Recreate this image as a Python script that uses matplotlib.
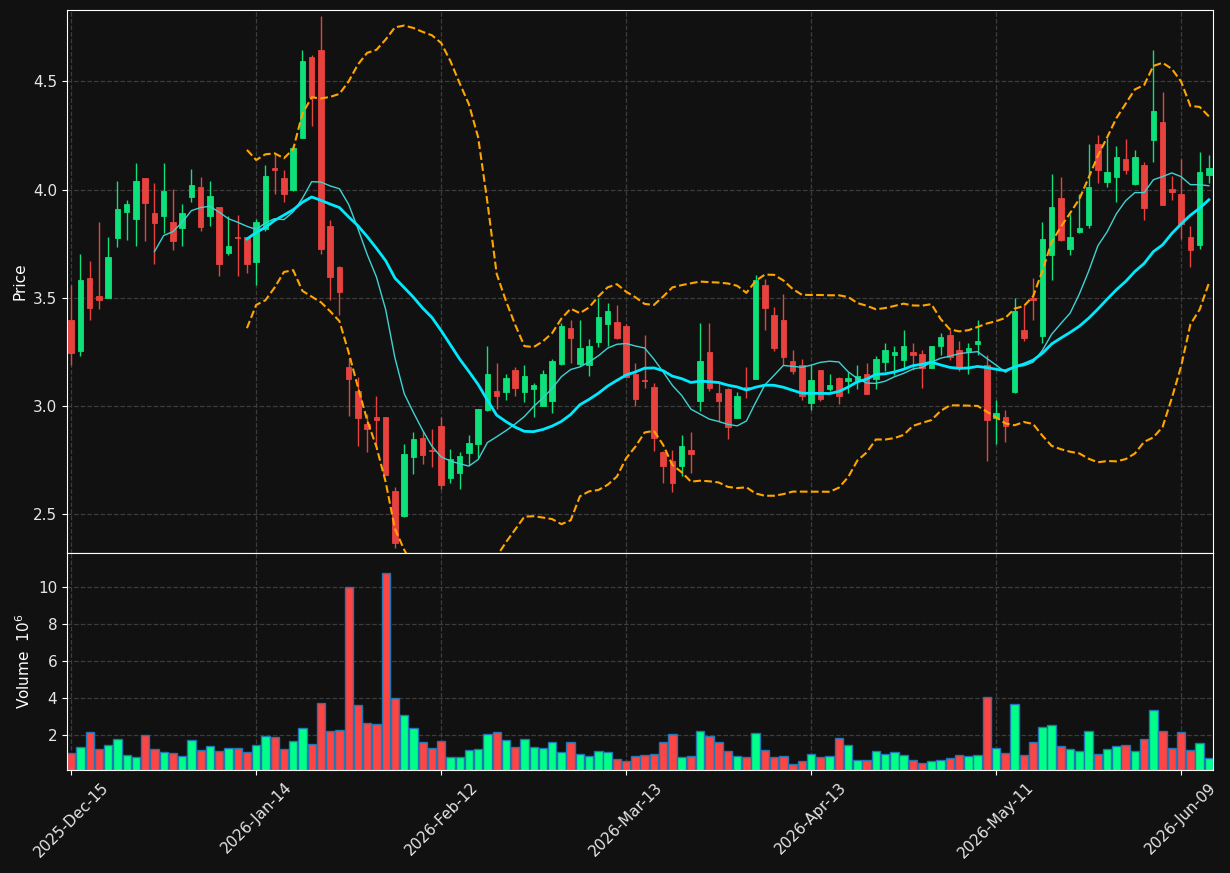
import numpy as np
import pandas as pd
import matplotlib
matplotlib.use("Agg")
import matplotlib.pyplot as plt

# trading days (US calendar), Dec-15-2025 onwards
holidays = ["2025-12-25", "2026-01-01", "2026-01-19", "2026-02-16", "2026-04-03", "2026-05-25"]
days = pd.bdate_range("2025-12-15", "2026-06-12")
days = days[~days.isin(pd.to_datetime(holidays))]

opens = [3.398, 3.256, 3.592, 3.508, 3.497, 3.778, 3.898, 3.866, 4.054, 3.892,
         3.879, 3.850, 3.820, 3.967, 4.012, 3.879, 3.919, 3.709, 3.781, 3.781,
         3.667, 3.818, 4.099, 4.054, 3.998, 4.240, 4.612, 4.644, 3.833, 3.643,
         3.181, 3.070, 2.918, 2.950, 2.950, 2.607, 2.494, 2.765, 2.855, 2.799,
         2.908, 2.666, 2.693, 2.783, 2.826, 2.984, 3.070, 3.067, 3.167, 3.067,
         3.078, 3.000, 3.024, 3.196, 3.361, 3.194, 3.188, 3.297, 3.377, 3.388,
         3.369, 3.149, 3.120, 3.088, 2.788, 2.746, 2.725, 2.798, 3.024, 3.250,
         3.061, 3.080, 2.947, 3.088, 3.127, 3.560, 3.420, 3.398, 3.208, 3.192,
         3.016, 3.167, 3.077, 3.130, 3.117, 3.117, 3.149, 3.125, 3.204, 3.236,
         3.215, 3.250, 3.240, 3.178, 3.276, 3.329, 3.260, 3.256, 3.289, 3.189,
         2.947, 2.948, 3.067, 3.351, 3.499, 3.325, 3.699, 3.961, 3.727, 3.805,
         3.837, 4.210, 4.036, 4.060, 4.139, 4.027, 4.113, 4.230, 4.312, 4.003,
         3.980, 3.781, 3.746, 4.067]
highs = [3.561, 3.701, 3.669, 3.849, 3.780, 4.038, 3.950, 4.123, 4.054, 4.030,
         4.123, 4.001, 3.932, 4.097, 4.060, 4.038, 3.919, 3.879, 3.881, 3.781,
         3.866, 4.112, 4.163, 4.089, 4.203, 4.643, 4.620, 4.800, 3.858, 3.648,
         3.224, 3.136, 2.964, 3.046, 2.950, 2.626, 2.826, 2.879, 2.887, 2.895,
         2.948, 2.804, 2.788, 2.865, 2.987, 3.276, 3.197, 3.147, 3.181, 3.189,
         3.107, 3.165, 3.218, 3.386, 3.396, 3.396, 3.308, 3.500, 3.478, 3.468,
         3.377, 3.197, 3.329, 3.107, 2.794, 2.796, 2.865, 2.879, 3.386, 3.386,
         3.110, 3.085, 3.067, 3.179, 3.606, 3.589, 3.457, 3.516, 3.260, 3.218,
         3.189, 3.167, 3.147, 3.136, 3.159, 3.189, 3.197, 3.232, 3.292, 3.277,
         3.350, 3.292, 3.261, 3.277, 3.337, 3.351, 3.301, 3.292, 3.396, 3.236,
         3.027, 2.984, 3.497, 3.465, 3.590, 3.849, 4.072, 4.060, 3.885, 3.979,
         4.208, 4.250, 4.240, 4.200, 4.232, 4.181, 4.129, 4.643, 4.450, 4.062,
         4.139, 3.831, 4.171, 4.158]
lows = [3.189, 3.231, 3.396, 3.447, 3.497, 3.736, 3.768, 3.738, 3.760, 3.658,
        3.797, 3.720, 3.738, 3.942, 3.807, 3.831, 3.600, 3.699, 3.600, 3.616,
        3.558, 3.807, 3.979, 3.942, 3.991, 4.240, 4.291, 3.701, 3.489, 3.419,
        2.956, 2.815, 2.786, 2.822, 2.680, 2.345, 2.486, 2.685, 2.735, 2.717,
        2.618, 2.647, 2.615, 2.727, 2.759, 2.976, 2.987, 3.027, 3.048, 3.019,
        2.948, 3.000, 2.968, 3.189, 3.197, 3.186, 3.139, 3.273, 3.276, 3.308,
        3.133, 3.000, 3.085, 2.794, 2.647, 2.605, 2.679, 2.693, 2.976, 3.069,
        2.931, 2.846, 2.947, 3.037, 3.127, 3.350, 3.256, 3.192, 3.147, 3.027,
        2.984, 3.025, 3.069, 3.008, 3.059, 3.080, 3.058, 3.080, 3.160, 3.144,
        3.176, 3.167, 3.085, 3.178, 3.237, 3.213, 3.160, 3.147, 3.237, 2.746,
        2.826, 2.836, 3.059, 3.300, 3.396, 3.292, 3.581, 3.764, 3.699, 3.797,
        3.821, 4.030, 4.011, 3.942, 4.070, 4.019, 3.858, 4.129, 3.929, 3.950,
        3.770, 3.642, 3.725, 4.029]
closes = [3.247, 3.582, 3.455, 3.488, 3.688, 3.910, 3.934, 4.040, 3.940, 3.847,
          3.993, 3.760, 3.892, 4.022, 3.829, 3.971, 3.658, 3.739, 3.778, 3.658,
          3.850, 4.062, 4.088, 3.977, 4.190, 4.593, 4.425, 3.725, 3.597, 3.528,
          3.125, 2.947, 2.895, 2.937, 2.682, 2.366, 2.778, 2.849, 2.775, 2.794,
          2.634, 2.754, 2.770, 2.828, 2.987, 3.149, 3.045, 3.130, 3.085, 3.139,
          3.098, 3.149, 3.208, 3.370, 3.316, 3.269, 3.277, 3.412, 3.439, 3.316,
          3.133, 3.035, 3.116, 2.855, 2.725, 2.647, 2.817, 2.777, 3.208, 3.085,
          3.025, 2.903, 3.046, 3.080, 3.582, 3.455, 3.266, 3.229, 3.163, 3.045,
          3.120, 3.035, 3.098, 3.045, 3.131, 3.139, 3.058, 3.218, 3.260, 3.250,
          3.277, 3.236, 3.178, 3.277, 3.321, 3.229, 3.176, 3.269, 3.301, 2.936,
          2.969, 2.907, 3.439, 3.316, 3.488, 3.772, 3.919, 3.767, 3.780, 3.823,
          4.012, 4.088, 4.081, 4.150, 4.088, 4.150, 3.916, 4.362, 3.929, 3.990,
          3.839, 3.719, 4.081, 4.099]
# volume in millions
volumes = [1.03, 1.35, 2.16, 1.24, 1.46, 1.78, 0.92, 0.81, 2.00, 1.24,
           1.08, 1.03, 0.86, 1.73, 1.19, 1.40, 1.15, 1.29, 1.29, 1.08,
           1.46, 1.94, 1.89, 1.24, 1.67, 2.37, 1.51, 3.72, 2.21, 2.27,
           9.98, 3.62, 2.64, 2.59, 10.74, 3.99, 3.08, 2.37, 1.62, 1.29,
           1.67, 0.85, 0.85, 1.19, 1.24, 2.05, 2.16, 1.73, 1.35, 1.78,
           1.35, 1.29, 1.62, 1.08, 1.62, 0.97, 0.86, 1.13, 1.08, 0.70,
           0.59, 0.86, 0.92, 0.97, 1.62, 2.05, 0.81, 0.86, 2.21, 1.94,
           1.62, 1.13, 0.86, 0.81, 2.10, 1.19, 0.81, 0.86, 0.43, 0.59,
           0.97, 0.81, 0.86, 1.83, 1.46, 0.65, 0.65, 1.13, 0.97, 1.08,
           0.92, 0.65, 0.49, 0.59, 0.65, 0.76, 0.92, 0.86, 0.92, 4.05,
           1.29, 1.03, 3.67, 0.92, 1.62, 2.43, 2.54, 1.40, 1.24, 1.13,
           2.21, 0.97, 1.24, 1.40, 1.46, 1.13, 1.78, 3.35, 2.21, 1.29,
           2.16, 1.19, 1.56, 0.76]

df = pd.DataFrame({"Open": opens, "High": highs, "Low": lows, "Close": closes,
                   "Volume": volumes}, index=days[:len(opens)])
x = np.arange(len(df))
up = (df.Close >= df.Open).values

ma10 = df.Close.rolling(10).mean()
ma20 = df.Close.rolling(20).mean()
sd20 = df.Close.rolling(20).std(ddof=0)
bb_up = ma20 + 2 * sd20
bb_lo = ma20 - 2 * sd20

bg = "#111111"
c_up, c_dn = "#0ee07a", "#e8423f"
v_up, v_dn = "#00ff88", "#ff4444"
plt.rcParams["font.size"] = 11

fig = plt.figure(figsize=(12.3, 8.73), dpi=100, facecolor=bg)
ax = fig.add_axes([0.0545, 0.3666, 0.9317, 0.6220])
axv = fig.add_axes([0.0545, 0.1180, 0.9317, 0.2486], sharex=ax)

for a in (ax, axv):
    a.set_facecolor(bg)
    for s in a.spines.values():
        s.set_color("white")
    a.tick_params(colors="white", labelcolor="#e6e6e6", labelsize=11)
    a.grid(True, color="#3c3c3c", linestyle="--", linewidth=0.9)
    a.set_axisbelow(True)

# candles
col = np.where(up, c_up, c_dn)
ax.vlines(x, df.Low, df.High, color=col, linewidth=1.0)
body_lo = np.minimum(df.Open, df.Close)
body_h = np.abs(df.Close - df.Open)
ax.bar(x, body_h, bottom=body_lo, width=0.6, color=col, edgecolor=col, linewidth=0.6)

ax.plot(x, ma10, color="#3fd2d2", linewidth=1.0)
ax.plot(x, ma20, color="#00eaff", linewidth=2.0)
ax.plot(x, bb_up, color="#ffa500", linestyle="--", linewidth=1.5)
ax.plot(x, bb_lo, color="#ffa500", linestyle="--", linewidth=1.5)

ax.set_ylim(2.322, 4.829)
ax.set_yticks([2.5, 3.0, 3.5, 4.0, 4.5])
ax.set_ylabel("Price", color="white")
plt.setp(ax.get_xticklabels(), visible=False)

# volume
vcol = np.where(up, v_up, v_dn)
axv.bar(x, df.Volume, width=0.9, color=vcol, edgecolor="#1f77b4", linewidth=1.0)
axv.set_ylim(0.3 * df.Volume.min(), 1.1 * df.Volume.max())
axv.set_yticks([2, 4, 6, 8, 10])
axv.set_ylabel("Volume  $10^6$", color="white")

ticks = x[::20]
axv.set_xticks(ticks)
axv.set_xticklabels([d.strftime("%Y-%b-%d") for d in df.index[ticks]], rotation=45)
axv.set_xlim(-0.45, len(df) - 1 + 0.45)

fig.align_ylabels([ax, axv])
fig.savefig("out.png", facecolor=bg)
